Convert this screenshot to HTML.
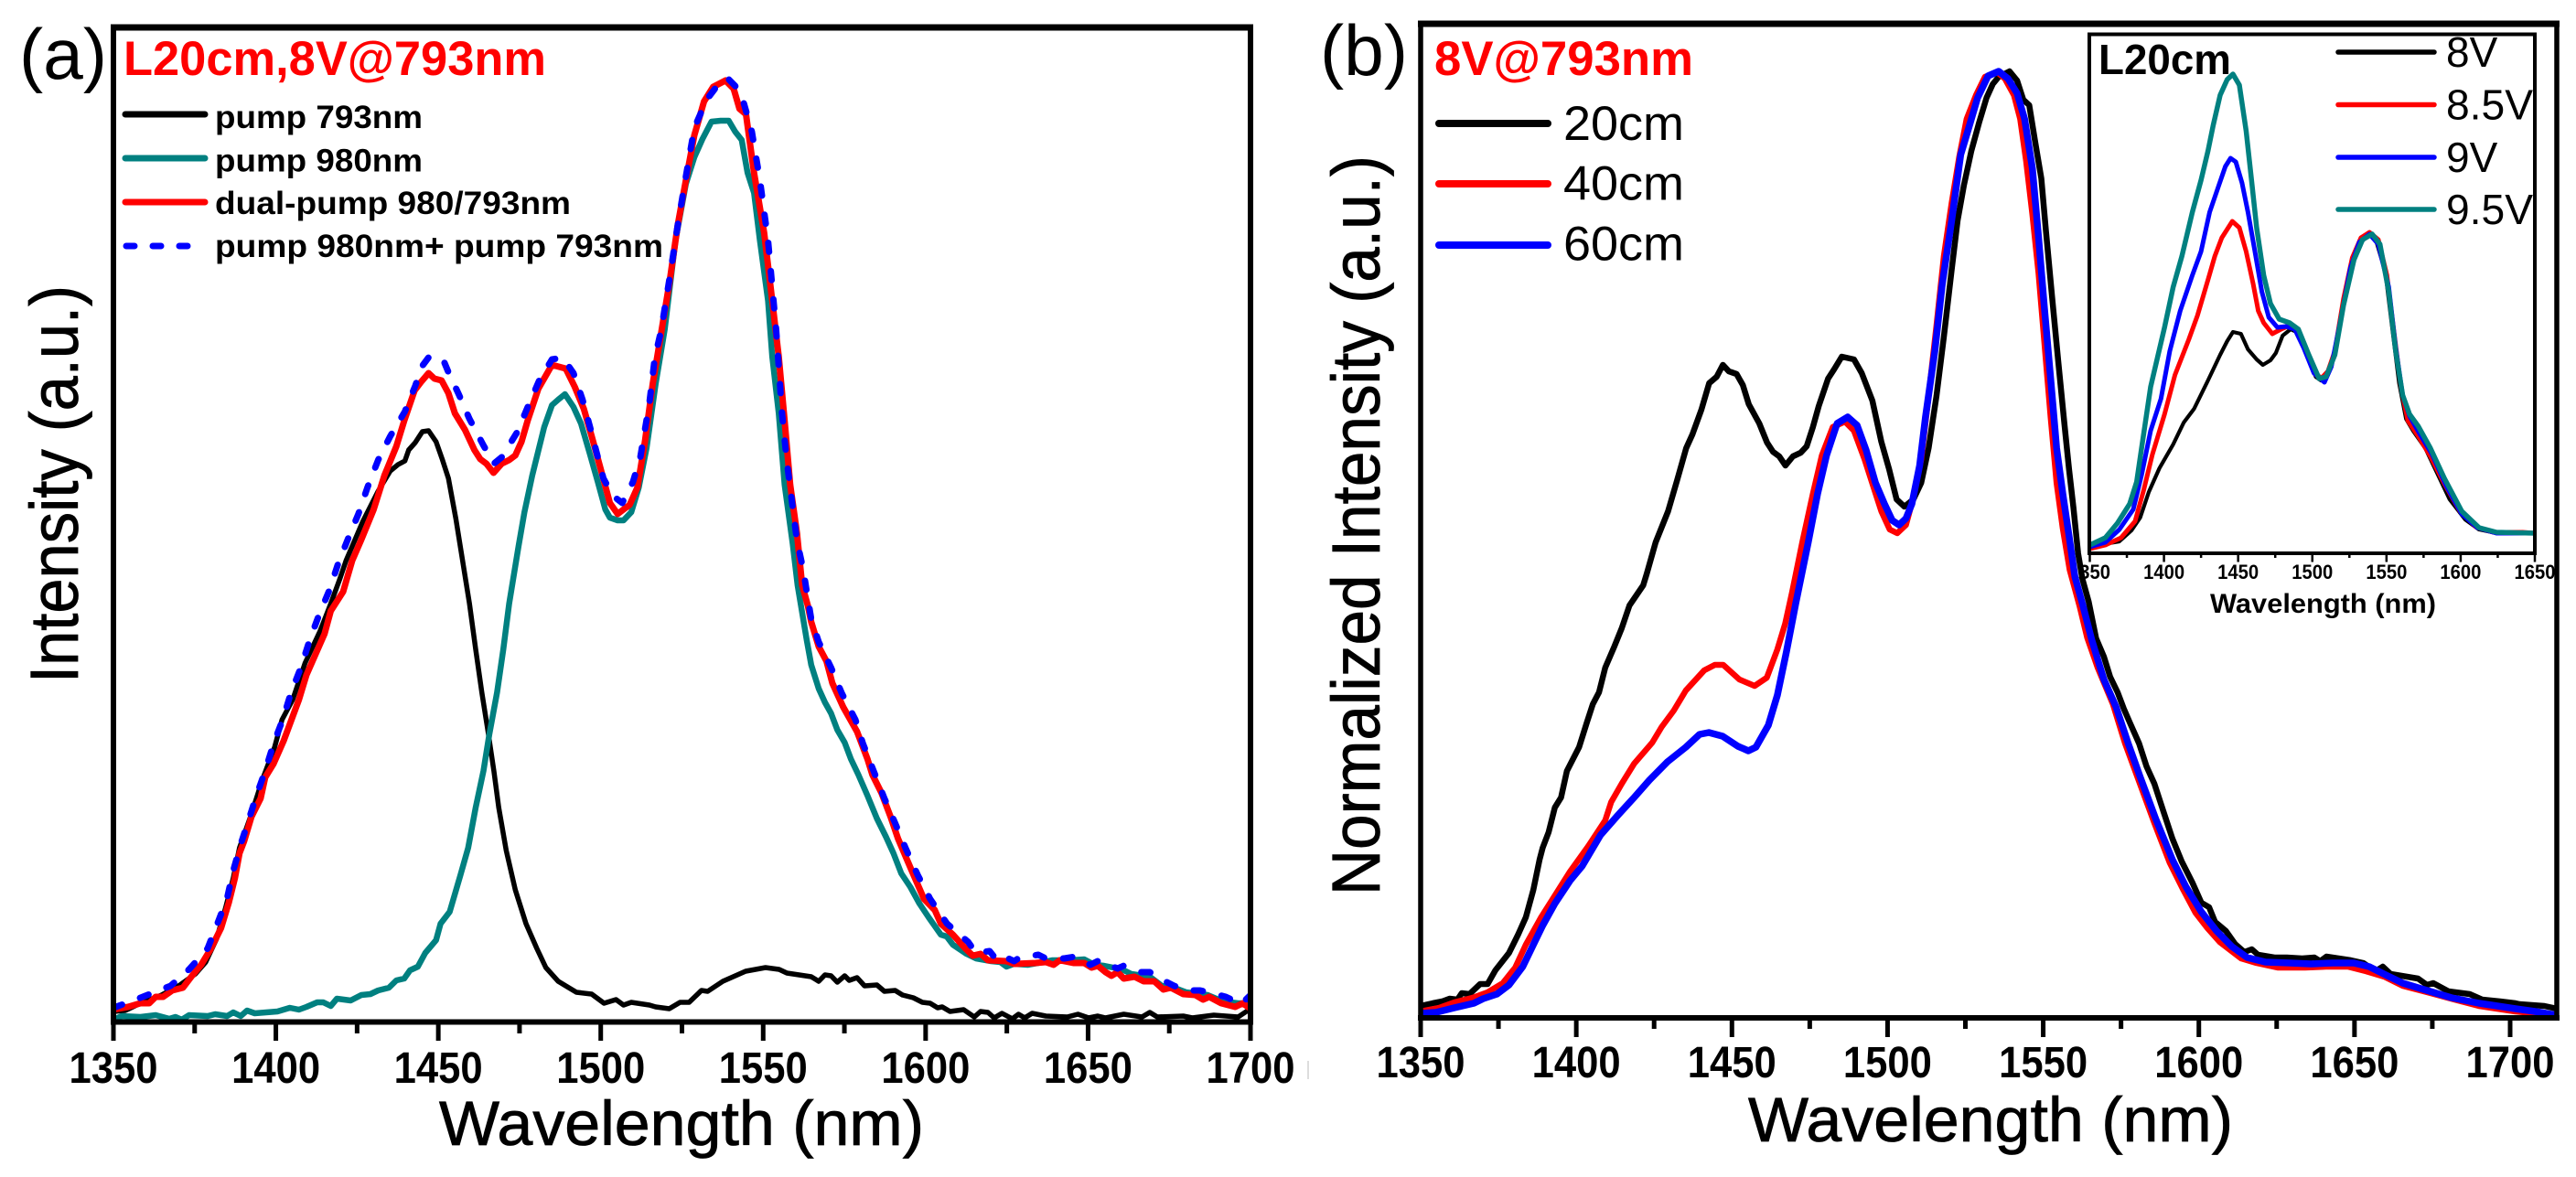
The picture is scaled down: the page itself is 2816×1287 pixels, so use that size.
<!DOCTYPE html>
<html lang="en">
<head>
<meta charset="utf-8">
<title>Dual-pump spectra</title>
<style>
html,body{margin:0;padding:0;background:#fff;}
svg{display:block;}
text{font-family:"Liberation Sans",sans-serif;fill:#000;}
.b{font-weight:bold;}
.h{stroke:#000;stroke-width:.8px;}
</style>
</head>
<body>
<svg id="fig" xmlns="http://www.w3.org/2000/svg" width="2816" height="1287" viewBox="0 0 2816 1287">
<defs>
<clipPath id="clipA"><rect x="124" y="30" width="1243" height="1087"/></clipPath>
<clipPath id="clipB"><rect x="1553" y="26" width="1242" height="1087"/></clipPath>
<clipPath id="clipI"><rect x="2284" y="36" width="487" height="569"/></clipPath>
</defs>
<rect x="0" y="0" width="2816" height="1287" fill="#fff"/>
<line x1="1430" x2="1430" y1="1160" y2="1180" stroke="#dddddd" stroke-width="2"/>

<g id="panelA">
<text x="21" y="86" font-size="78" textLength="96" lengthAdjust="spacingAndGlyphs">(a)</text>
<text class="h" transform="translate(85,747) rotate(-90)" x="0" y="0" font-size="74" textLength="435" lengthAdjust="spacingAndGlyphs">Intensity (a.u.)</text>
<text class="h" x="480" y="1252" font-size="69" textLength="530" lengthAdjust="spacingAndGlyphs">Wavelength (nm)</text>
<g id="ticksA"></g>
<g id="linesA" clip-path="url(#clipA)"></g>
<line x1="121" x2="1370" y1="30" y2="30" stroke="#000" stroke-width="7"/>
<line x1="121" x2="1370" y1="1117.5" y2="1117.5" stroke="#000" stroke-width="6"/>
<line x1="124" x2="124" y1="27" y2="1120" stroke="#000" stroke-width="6"/>
<line x1="1367" x2="1367" y1="27" y2="1120" stroke="#000" stroke-width="6"/>
<text class="b" x="135" y="82" font-size="53" style="fill:#ff0000" textLength="462" lengthAdjust="spacingAndGlyphs">L20cm,8V@793nm</text>
<g>
<line x1="137" x2="224" y1="125" y2="125" stroke="#000" stroke-width="7" stroke-linecap="round"/>
<text class="b" x="235" y="140" font-size="35" textLength="227" lengthAdjust="spacingAndGlyphs">pump 793nm</text>
<line x1="137" x2="224" y1="173" y2="173" stroke="#008080" stroke-width="7" stroke-linecap="round"/>
<text class="b" x="235" y="187.5" font-size="35" textLength="227" lengthAdjust="spacingAndGlyphs">pump 980nm</text>
<line x1="137" x2="224" y1="221" y2="221" stroke="#ff0000" stroke-width="7" stroke-linecap="round"/>
<text class="b" x="235" y="234" font-size="35" textLength="389" lengthAdjust="spacingAndGlyphs">dual-pump 980/793nm</text>
<line x1="138" x2="224" y1="269" y2="269" stroke="#0000ff" stroke-width="7" stroke-linecap="round" stroke-dasharray="9 20"/>
<text class="b" x="235" y="281" font-size="35" textLength="490" lengthAdjust="spacingAndGlyphs">pump 980nm+ pump 793nm</text>
</g>
</g>

<g id="panelB">
<text x="1443" y="82" font-size="78" textLength="96" lengthAdjust="spacingAndGlyphs">(b)</text>
<text class="h" transform="translate(1508,979) rotate(-90)" x="0" y="0" font-size="74" textLength="809" lengthAdjust="spacingAndGlyphs">Normalized Intensity (a.u.)</text>
<text class="h" x="1911" y="1248" font-size="69" textLength="530" lengthAdjust="spacingAndGlyphs">Wavelength (nm)</text>
<g id="ticksB"></g>

<g id="inset">
<g id="ticksI"></g>
<text class="b" x="2416" y="670" font-size="30" textLength="247" lengthAdjust="spacingAndGlyphs">Wavelength (nm)</text>
<g id="linesI" clip-path="url(#clipI)"></g>
<rect x="2284" y="37.5" width="487" height="567.5" fill="none" stroke="#000" stroke-width="4"/>
<text class="b" x="2294" y="81" font-size="46" textLength="145" lengthAdjust="spacingAndGlyphs">L20cm</text>
<g>
<line x1="2556" x2="2661" y1="57" y2="57" stroke="#000" stroke-width="5.5" stroke-linecap="round"/>
<text x="2674" y="73" font-size="46">8V</text>
<line x1="2556" x2="2661" y1="114.5" y2="114.5" stroke="#ff0000" stroke-width="5.5" stroke-linecap="round"/>
<text x="2674" y="130.5" font-size="46" textLength="95" lengthAdjust="spacingAndGlyphs">8.5V</text>
<line x1="2556" x2="2661" y1="172" y2="172" stroke="#0000ff" stroke-width="5.5" stroke-linecap="round"/>
<text x="2674" y="188" font-size="46">9V</text>
<line x1="2556" x2="2661" y1="229" y2="229" stroke="#008080" stroke-width="5.5" stroke-linecap="round"/>
<text x="2674" y="245" font-size="46" textLength="95" lengthAdjust="spacingAndGlyphs">9.5V</text>
</g>
</g>

<g id="linesB" clip-path="url(#clipB)"></g>
<line x1="1550" x2="2798" y1="26" y2="26" stroke="#000" stroke-width="7"/>
<line x1="1550" x2="2798" y1="1113" y2="1113" stroke="#000" stroke-width="6"/>
<line x1="1553" x2="1553" y1="23" y2="1116" stroke="#000" stroke-width="5.5"/>
<line x1="2795" x2="2795" y1="23" y2="1116" stroke="#000" stroke-width="5.5"/>
<text class="b" x="1568" y="82" font-size="53" style="fill:#ff0000" textLength="283" lengthAdjust="spacingAndGlyphs">8V@793nm</text>
<g>
<line x1="1573" x2="1692" y1="135" y2="135" stroke="#000" stroke-width="8" stroke-linecap="round"/>
<text x="1709" y="153" font-size="53" textLength="132" lengthAdjust="spacingAndGlyphs">20cm</text>
<line x1="1573" x2="1692" y1="201" y2="201" stroke="#ff0000" stroke-width="8" stroke-linecap="round"/>
<text x="1709" y="218.5" font-size="53" textLength="132" lengthAdjust="spacingAndGlyphs">40cm</text>
<line x1="1573" x2="1692" y1="268" y2="268" stroke="#0000ff" stroke-width="8" stroke-linecap="round"/>
<text x="1709" y="284.5" font-size="53" textLength="132" lengthAdjust="spacingAndGlyphs">60cm</text>
</g>
</g>
</svg>

<script>
// ---- Tick labels ----
const ticksMain = [1350,1400,1450,1500,1550,1600,1650,1700];
const ticksMainMinor = [1375,1425,1475,1525,1575,1625,1675];
const ticksInset = [1350,1400,1450,1500,1550,1600,1650];
const ticksInsetMinor = [1375,1425,1475,1525,1575,1625];

// ---- Panel (a): [wavelength nm, intensity a.u.] ----
const aPump793 = [[1350,11],[1353.6,12],[1358.3,20],[1364.8,29],[1370.5,40],[1375.2,52],[1378.4,65],[1381.7,90],[1384.5,124],[1386.9,157],[1388.8,190],[1392.5,227],[1395.8,264],[1399.6,300],[1401.9,330],[1405.2,352],[1409,392],[1413.6,427],[1416.9,457],[1419.7,484],[1421.6,504],[1426.8,547],[1431.5,580],[1435.2,602],[1437.6,609],[1439.7,613],[1440.9,625],[1442.9,633],[1445.1,645],[1447,646],[1449.3,634],[1451.2,615],[1453.1,594],[1455.4,550],[1457.8,497],[1459.6,457],[1461.5,407],[1463.4,360],[1465.3,317],[1467.1,274],[1468.6,234],[1470.9,187],[1473.7,144],[1477,107],[1480.3,80],[1483.1,59],[1486.9,44],[1489.7,38],[1492.5,32],[1497.2,30],[1501,20],[1504.7,24],[1507,18],[1509.4,21],[1515,18],[1516.9,16],[1521.1,14],[1524.4,21],[1527.2,21],[1531,34],[1532.9,33],[1537.6,44],[1544.6,55],[1550.7,59],[1554.9,57],[1557.3,53],[1564.8,49],[1567.1,44],[1569,51],[1570.9,50],[1572.8,43],[1575.1,50],[1576.5,45],[1578.9,48],[1581.2,39],[1585,40],[1587.3,33],[1590.6,34],[1592.9,29],[1596.2,26],[1599,21],[1601.4,20],[1603.7,15],[1605.1,16],[1607.5,11],[1611.7,13],[1615,5],[1616.9,11],[1619.2,10],[1621.1,4],[1623.5,9],[1626.7,3],[1628.6,8],[1630.5,4],[1632.8,9],[1637,6],[1643.6,5],[1646.9,8],[1650.2,4],[1653,6],[1655.4,4],[1661,8],[1666.6,5],[1669,10],[1671.3,5],[1679.3,6],[1682.1,4],[1688.7,7],[1696.2,5],[1700,14]];
const aPump980 = [[1350,2],[1352.6,6],[1358.3,5],[1363,7],[1367.2,3],[1369.1,5],[1371,2],[1373.3,7],[1379,6],[1381.3,8],[1385,6],[1386.9,10],[1389.2,6],[1391.1,12],[1393.5,9],[1400.5,11],[1404.3,15],[1407.1,13],[1409.4,16],[1412.7,21],[1414.6,21],[1416.9,17],[1418.8,25],[1423,23],[1426.3,29],[1429.1,30],[1431.5,34],[1434.8,37],[1437.1,45],[1439.5,47],[1441.3,56],[1443.7,60],[1446,75],[1449.3,89],[1450.7,107],[1453.5,120],[1456.8,160],[1459.2,190],[1461.5,234],[1463.9,274],[1465.7,314],[1468.1,360],[1470,407],[1471.8,457],[1474.7,520],[1476.5,557],[1478.9,597],[1482.6,650],[1485,674],[1486.9,680],[1489,686],[1491.6,672],[1493.9,654],[1496.7,620],[1499.1,590],[1501.4,560],[1502.8,551],[1505.2,548],[1507,548],[1509.4,557],[1511.7,584],[1514.1,627],[1516.9,697],[1519.7,757],[1523,854],[1526.2,916],[1528.8,945],[1531.3,965],[1534.1,984],[1536.9,985],[1539.4,985],[1541.4,973],[1543.4,964],[1545.2,928],[1547.2,906],[1549,854],[1551.5,788],[1552.8,727],[1554.8,665],[1556.6,587],[1559.1,522],[1560.6,477],[1562,447],[1563.4,417],[1564.8,390],[1567.1,364],[1569,349],[1570.9,337],[1572.8,319],[1575.1,305],[1577,287],[1579.3,270],[1582.1,247],[1585,222],[1587.8,202],[1590.1,184],[1592.5,162],[1595.3,147],[1598.1,129],[1600.9,114],[1604.7,95],[1606.5,93],[1608.4,84],[1612.6,74],[1615.5,69],[1620.2,66],[1623,65],[1624.9,60],[1627.2,63],[1631.4,62],[1636.1,65],[1638.9,67],[1644.6,67],[1648.8,68],[1652,62],[1654.9,61],[1657.7,59],[1660.5,57],[1663.3,52],[1669,49],[1672.7,39],[1676.5,37],[1680.2,32],[1686.8,29],[1691.5,22],[1696.2,20],[1700,20]];
const aDualPump = [[1350,13],[1354.5,16],[1358.3,20],[1361,20],[1363,27],[1365.3,27],[1368.1,34],[1371.4,37],[1374.2,50],[1377,62],[1379.9,79],[1383.1,102],[1385.5,130],[1387.4,157],[1388.8,184],[1390.2,197],[1392.5,224],[1395.3,244],[1396.7,267],[1399.3,282],[1402.4,307],[1407.1,352],[1409.4,379],[1415,424],[1416.9,449],[1420.7,470],[1423.5,504],[1426.3,527],[1430.1,560],[1433.4,597],[1437.1,629],[1439.5,657],[1442.7,690],[1444.6,699],[1447,709],[1448.8,703],[1451,701],[1453.1,687],[1455.1,665],[1458.2,647],[1461.1,625],[1462.9,615],[1464.8,610],[1467,600],[1469.5,610],[1471.8,614],[1473.7,619],[1475.6,634],[1477.5,657],[1480.8,692],[1485,718],[1489.2,714],[1492,694],[1494.8,670],[1497.2,640],[1500,604],[1502.8,567],[1505.2,555],[1508.9,565],[1511.3,584],[1513.6,634],[1516,697],[1517.4,727],[1521.2,809],[1523.7,871],[1526.2,920],[1528.8,969],[1531.8,1006],[1534.6,1022],[1538.4,1029],[1540.9,1020],[1542.7,998],[1544.7,992],[1547.2,928],[1550.3,862],[1552.8,788],[1554.8,727],[1556.6,657],[1558.3,587],[1560.4,534],[1562,477],[1563.8,454],[1564.8,437],[1567.1,410],[1569.5,394],[1571.3,370],[1574.6,344],[1578.9,317],[1582.1,287],[1583.6,270],[1586.4,250],[1589.2,224],[1591.5,200],[1593.9,180],[1596.7,157],[1599.5,134],[1602.8,122],[1604.7,107],[1608.4,95],[1612.2,80],[1614.5,72],[1616.9,74],[1619.2,67],[1624.9,66],[1627.2,63],[1633.8,64],[1637,65],[1639.4,62],[1641.3,67],[1645.5,64],[1648.8,64],[1651.1,59],[1653,61],[1655.4,54],[1657.2,50],[1659.1,54],[1661,47],[1664.3,49],[1667.1,44],[1670.4,44],[1673.2,35],[1675.5,37],[1679.3,30],[1683,29],[1685.4,24],[1687.3,27],[1691,20],[1695.3,16],[1697.6,20],[1700,14]];
const aPumpSum = [[1350,15],[1358.3,26],[1367.6,39],[1373.3,57],[1379,80],[1382.2,109],[1385,135],[1386.9,165],[1389.2,194],[1391.6,220],[1394,247],[1396.8,275],[1399.3,304],[1402.1,330],[1404.7,360],[1407.7,387],[1410.4,417],[1413.2,444],[1416.5,472],[1419.1,500],[1422.1,527],[1425.4,555],[1428.2,584],[1431.5,614],[1435.2,640],[1439.7,667],[1442.9,695],[1445.1,717],[1447.4,728],[1451.7,722],[1453.1,710],[1456.4,685],[1459.6,659],[1463.9,630],[1467.1,610],[1469.5,617],[1474.2,644],[1477.9,675],[1481.2,702],[1485,724],[1488.3,726],[1491.6,709],[1494.4,680],[1496.7,650],[1498.6,624],[1500.8,594],[1503.7,575],[1506.6,567],[1509.9,590],[1512.2,617],[1513.6,647],[1515,677],[1516.6,725],[1518.6,756],[1521.2,813],[1523.7,871],[1526.2,924],[1528.8,977],[1532.6,1008],[1535.8,1023],[1538.9,1032],[1541.4,1023],[1543.9,1006],[1546.5,973],[1549,920],[1551.5,854],[1554,756],[1555.8,665],[1557.3,612],[1560.4,526],[1562.4,493],[1563.4,470],[1564.8,440],[1567.1,415],[1570.9,387],[1574.2,359],[1578.4,330],[1580.7,304],[1584,274],[1587.3,244],[1590.6,217],[1593.9,189],[1597.6,160],[1601.4,134],[1606.6,107],[1613.1,87],[1615.5,75],[1619.7,77],[1621.3,70],[1622.5,74],[1627.2,66],[1629,70],[1634.7,73],[1637,69],[1642.7,69],[1646,71],[1650.7,62],[1653.5,67],[1657.7,60],[1659.1,58],[1661,61],[1665.7,54],[1669,54],[1673.2,45],[1676.5,39],[1681.2,34],[1684.5,34],[1689.2,30],[1692.4,27],[1697.1,19],[1700,29]];

// ---- Panel (b): [wavelength nm, normalized intensity a.u.] ----
const b20cm = [[1350,13],[1353.9,16],[1356.9,18],[1359.3,21],[1361.8,20],[1363.2,27],[1365.7,26],[1369.1,37],[1371.5,37],[1374,52],[1378.4,71],[1381.3,91],[1383.8,110],[1386.2,140],[1388.2,173],[1389.2,186],[1391.1,203],[1393.1,230],[1395.1,241],[1397,270],[1400.9,296],[1403.4,323],[1405.3,343],[1407.3,356],[1409.3,383],[1412.2,406],[1414.6,426],[1417.1,451],[1421.5,473],[1422.6,485],[1425.5,520],[1429.5,554],[1432.4,588],[1435.3,623],[1437.3,638],[1440.2,665],[1442.7,694],[1445.1,701],[1447.1,714],[1449,707],[1451.5,704],[1453.5,692],[1455.4,671],[1458.8,650],[1461.3,629],[1463.2,619],[1465.2,614],[1467.2,604],[1469.6,614],[1472.1,618],[1474,625],[1476,646],[1477.9,669],[1480.9,699],[1482.8,709],[1485.3,723],[1489.2,720],[1491.7,705],[1495.1,675],[1498,630],[1500.5,600],[1502.9,567],[1505.4,559],[1508.3,567],[1510.8,585],[1513.2,623],[1515.7,680],[1518.1,745],[1520.6,818],[1522.5,872],[1524.5,910],[1526.9,948],[1529.4,979],[1531.8,1006],[1533.8,1021],[1535.7,1029],[1539.2,1035],[1541.6,1025],[1543.6,1004],[1545.5,998],[1547.5,956],[1549.4,918],[1550.9,860],[1552.9,787],[1554.8,719],[1556.8,650],[1558.3,600],[1559.7,558],[1561.2,508],[1562.6,480],[1564.6,455],[1567,415],[1569.5,395],[1571.5,373],[1573.9,356],[1575.9,338],[1577.8,323],[1580.8,300],[1583.2,275],[1585.7,256],[1588.6,226],[1591.5,196],[1594.5,171],[1597.9,148],[1600.8,126],[1603.3,121],[1605.2,105],[1608.7,95],[1611.6,81],[1614.6,72],[1617,75],[1619,69],[1624.3,66],[1628.3,66],[1633.2,65],[1637.1,66],[1639,62],[1641,67],[1648.8,63],[1652.8,60],[1656.7,51],[1659.1,56],[1661.6,48],[1670.4,43],[1673.3,36],[1675.3,38],[1680.2,29],[1687,26],[1691,20],[1696.8,18],[1701.7,16],[1703,15],[1707,14],[1711,13],[1715,10]];
const b40cm = [[1350,7],[1355.9,11],[1360.8,17],[1366.7,22],[1371.5,28],[1376.4,38],[1380.4,55],[1383.8,80],[1388.7,110],[1392.6,131],[1398,160],[1403.9,188],[1409.3,216],[1411.2,236],[1414.6,256],[1418.6,278],[1424.4,301],[1427.4,318],[1431.3,336],[1435.2,358],[1441.1,380],[1444.5,386],[1447.2,386],[1452.4,370],[1457.3,363],[1461.2,372],[1464.6,403],[1467.1,431],[1469.3,465],[1472.6,520],[1476,573],[1478.9,615],[1482.4,646],[1486.3,652],[1489.2,642],[1492.6,611],[1495.6,579],[1498,554],[1500.7,534],[1503.1,530],[1505.9,539],[1508.3,569],[1510.8,611],[1513.2,680],[1515.7,757],[1518.1,833],[1520.6,891],[1523,941],[1525.4,983],[1528.4,1009],[1531.3,1029],[1535.2,1034],[1537.7,1027],[1540.6,1009],[1542.6,983],[1544.5,937],[1546.5,879],[1548.5,814],[1550.4,738],[1552.4,657],[1554.3,585],[1556.3,535],[1558.5,490],[1561.7,450],[1564.1,416],[1567.5,383],[1572.4,343],[1576.3,300],[1580.3,263],[1585.7,213],[1590.6,170],[1595,140],[1598.9,115],[1602.8,98],[1606.7,83],[1613.6,65],[1618.5,60],[1625.3,55],[1634.1,55],[1641,56],[1647.9,56],[1653.7,51],[1659.6,45],[1665.5,35],[1672.3,29],[1682.1,20],[1690,13],[1701.7,7],[1708,5],[1715,2]];
const b60cm = [[1350,5],[1354.9,6],[1360.8,11],[1367.1,16],[1370.1,21],[1374.5,26],[1378.4,36],[1382.8,56],[1386.2,80],[1389.2,101],[1393.1,125],[1398,150],[1401.9,166],[1407.8,200],[1413.2,221],[1418.6,241],[1423.5,260],[1429.3,280],[1435.2,296],[1439.6,310],[1442.6,312],[1447,308],[1451.9,297],[1455.3,292],[1457.7,296],[1461.7,320],[1464.6,353],[1467.5,400],[1470.5,453],[1474.5,520],[1477.5,573],[1480.4,615],[1483.8,650],[1487.2,657],[1490.2,648],[1493.1,621],[1496.1,585],[1499,562],[1501.5,544],[1503.7,539],[1505.9,546],[1507.8,562],[1510.3,604],[1512.2,657],[1515.2,730],[1517.6,803],[1520.6,872],[1523.5,944],[1526.4,977],[1528.9,1006],[1532.3,1030],[1535.7,1035],[1538.7,1027],[1541.6,1011],[1544,983],[1546.5,929],[1548.5,853],[1550.4,776],[1552.4,699],[1554.3,623],[1556.3,573],[1558.3,527],[1560.2,482],[1562.6,453],[1565.6,413],[1569.5,370],[1573.4,340],[1577.3,300],[1581.2,263],[1586.1,218],[1591.5,173],[1595.9,143],[1600.8,116],[1605.7,95],[1610.6,78],[1615.5,66],[1621.4,61],[1629.2,60],[1636.1,59],[1643,60],[1649.8,60],[1654.7,56],[1660.6,46],[1665.5,38],[1672.3,31],[1681.2,22],[1690,16],[1701.7,10],[1708,7],[1715,3]];

// ---- Inset: [wavelength nm, intensity a.u.] ----
const i8V = [[1350,7],[1359.4,10],[1369.9,13],[1378.1,25],[1384,39],[1389.8,67],[1396.9,93],[1406.2,119],[1413.3,143],[1420.3,158],[1429.7,189],[1437.9,217],[1442.6,232],[1446.5,242],[1451.9,240],[1456.6,223],[1462.5,212],[1466.7,206],[1471.8,211],[1475.4,219],[1480,238],[1485.4,245],[1490.6,241],[1496.4,217],[1502.3,193],[1505.8,189],[1510.5,195],[1515.2,217],[1521,273],[1526.9,317],[1532.8,340],[1538.6,349],[1543.3,340],[1549.2,308],[1553.8,247],[1558.5,186],[1563.2,147],[1567.9,134],[1576.1,115],[1584.3,87],[1592.5,59],[1603,37],[1612.4,26],[1624.1,22],[1650,22]];
const i8p5V = [[1350,5],[1360.5,9],[1371.1,17],[1380.5,35],[1386.3,69],[1392.2,108],[1400.4,152],[1407.4,195],[1416.8,234],[1422.6,260],[1429.7,299],[1434.3,325],[1439,345],[1446.1,363],[1450.8,356],[1455.4,330],[1460.1,295],[1463.6,265],[1467.2,252],[1473,240],[1478.9,245],[1484.7,249],[1490.6,243],[1496.4,219],[1502.3,195],[1506.5,192],[1510.5,199],[1515.2,221],[1521,278],[1526.9,323],[1532.8,345],[1538.6,351],[1544.5,343],[1550.3,304],[1555,243],[1559.7,182],[1564.4,145],[1571.4,128],[1579.6,106],[1589,76],[1599.5,46],[1610.1,29],[1621.8,23],[1633.5,23],[1641.7,23],[1650,22]];
const i9V = [[1350,7],[1360.5,12],[1369.9,26],[1379.3,48],[1385.1,87],[1391,134],[1398,169],[1403.9,221],[1410.9,265],[1419.1,304],[1425,330],[1430.8,373],[1436.7,401],[1441.4,423],[1444.9,432],[1448.4,428],[1452.6,405],[1456.6,373],[1461.3,330],[1466,286],[1470.7,258],[1476.5,247],[1482.4,248],[1488.2,245],[1494.1,225],[1501.1,197],[1508.2,187],[1512.8,204],[1518.7,252],[1525.7,312],[1531.6,340],[1538.6,349],[1544.5,338],[1551.5,291],[1556.2,225],[1560.9,173],[1565.6,150],[1572.6,130],[1580.8,108],[1590.2,74],[1600.7,43],[1611.3,28],[1624.1,22],[1650,22]];
const i9p5V = [[1350,9],[1360.5,17],[1368.7,33],[1376.9,54],[1381.6,78],[1385.1,117],[1391,182],[1400.4,247],[1406.2,291],[1412.1,325],[1419.1,373],[1425,408],[1429.7,440],[1433.2,468],[1437.9,501],[1442.6,518],[1446.5,524],[1450.8,512],[1455.4,462],[1459,408],[1462.5,356],[1467.2,304],[1471.8,273],[1477.7,256],[1484.7,252],[1490.6,245],[1497.6,217],[1504.6,191],[1509.3,193],[1515.2,217],[1521,271],[1528.1,321],[1533.9,343],[1540.3,349],[1545.6,338],[1551.5,286],[1556.2,221],[1560.9,173],[1565.6,152],[1571.4,139],[1579.6,115],[1589,82],[1600.7,46],[1612.4,28],[1624.1,23],[1650,22]];

// ---- Axis functions ----
function linear(d0, d1, r0, r1) {
  return function (v) { return r0 + (v - d0) * (r1 - r0) / (d1 - d0); };
}
const xA = linear(1350, 1700, 124, 1367);
const yA = linear(0, 1087, 1117, 30);
const xB = linear(1350, 1700, 1553, 2744);
const yB = linear(0, 1087, 1113, 26);
const xI = linear(1350, 1650, 2284.5, 2771);
const yI = linear(0, 568.5, 605, 36.5);

const NS = 'http://www.w3.org/2000/svg';

function drawSeries(parentId, name, data, xf, yf, color, width, dash) {
  const p = document.createElementNS(NS, 'path');
  let d = '';
  for (let i = 0; i < data.length; i++) {
    d += (i ? 'L' : 'M') + xf(data[i][0]).toFixed(1) + ' ' + yf(data[i][1]).toFixed(1);
  }
  p.setAttribute('d', d);
  p.setAttribute('fill', 'none');
  p.setAttribute('stroke', color);
  p.setAttribute('stroke-width', width);
  p.setAttribute('stroke-linejoin', 'round');
  if (dash) {
    p.setAttribute('stroke-dasharray', dash);
    p.setAttribute('stroke-linecap', 'round');
  }
  
  
  document.getElementById(parentId).appendChild(p);
}

function drawTicks(parentId, prefix, xf, axisY, majors, minors, majorLen, minorLen, tickW, labelY, fontSize, labelW) {
  const g = document.getElementById(parentId);
  majors.forEach(function (t) {
    const l = document.createElementNS(NS, 'line');
    l.setAttribute('x1', xf(t));
    l.setAttribute('x2', xf(t));
    l.setAttribute('y1', axisY);
    l.setAttribute('y2', axisY + majorLen);
    l.setAttribute('stroke', '#000');
    l.setAttribute('stroke-width', tickW);
    
    
    g.appendChild(l);
    const s = document.createElementNS(NS, 'text');
    s.setAttribute('x', xf(t));
    s.setAttribute('y', labelY);
    s.setAttribute('text-anchor', 'middle');
    s.setAttribute('class', 'b');
    s.setAttribute('font-size', fontSize);
    s.setAttribute('textLength', labelW);
    s.setAttribute('lengthAdjust', 'spacingAndGlyphs');
    
    
    s.textContent = String(t);
    g.appendChild(s);
  });
  minors.forEach(function (t) {
    const l = document.createElementNS(NS, 'line');
    l.setAttribute('x1', xf(t));
    l.setAttribute('x2', xf(t));
    l.setAttribute('y1', axisY);
    l.setAttribute('y2', axisY + minorLen);
    l.setAttribute('stroke', '#000');
    l.setAttribute('stroke-width', tickW);
    
    
    g.appendChild(l);
  });
}

drawTicks('ticksA', 'panel-a-x', xA, 1117, ticksMain, ticksMainMinor, 21, 13, 5, 1184, 48, 97);
drawTicks('ticksB', 'panel-b-x', xB, 1113, ticksMain, ticksMainMinor, 21, 12, 5, 1178, 48, 97);
drawTicks('ticksI', 'inset-x', xI, 605, ticksInset, ticksInsetMinor, 9.5, 5, 2.5, 633, 22, 45);

drawSeries('linesA', 'series-pump-793nm', aPump793, xA, yA, '#000000', 5.5);
drawSeries('linesA', 'series-pump-980nm', aPump980, xA, yA, '#008080', 6.5);
drawSeries('linesA', 'series-dual-pump', aDualPump, xA, yA, '#ff0000', 7);
drawSeries('linesA', 'series-pump-sum', aPumpSum, xA, yA, '#0000ff', 7, '10 21');

drawSeries('linesI', 'series-inset-8v', i8V, xI, yI, '#000000', 4.2);
drawSeries('linesI', 'series-inset-8-5v', i8p5V, xI, yI, '#ff0000', 5);
drawSeries('linesI', 'series-inset-9v', i9V, xI, yI, '#0000ff', 5);
drawSeries('linesI', 'series-inset-9-5v', i9p5V, xI, yI, '#008080', 5.5);

drawSeries('linesB', 'series-20cm', b20cm, xB, yB, '#000000', 6.5);
drawSeries('linesB', 'series-40cm', b40cm, xB, yB, '#ff0000', 6.5);
drawSeries('linesB', 'series-60cm', b60cm, xB, yB, '#0000ff', 7.5);
</script>
</body>
</html>
